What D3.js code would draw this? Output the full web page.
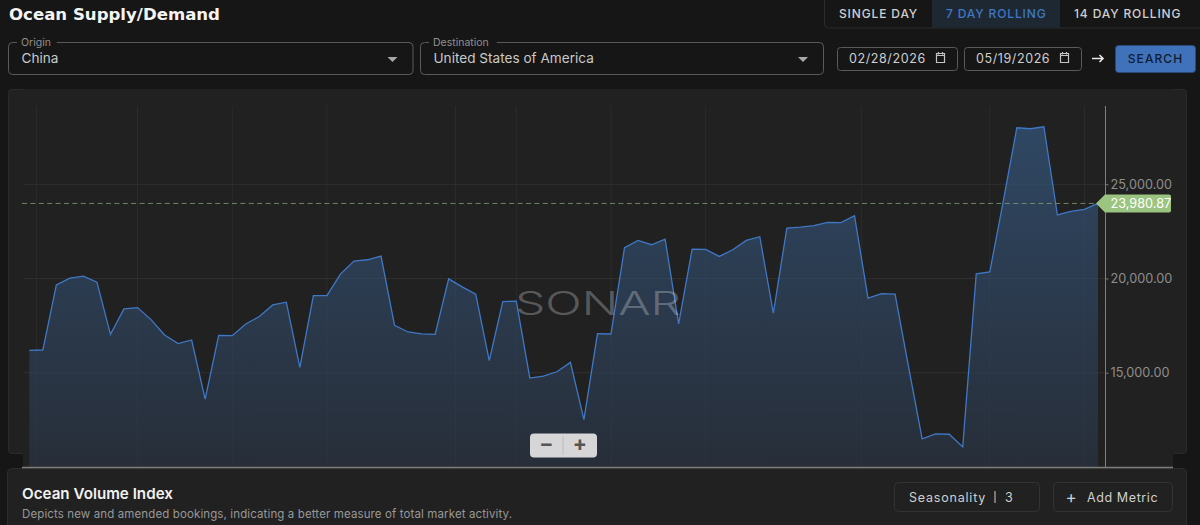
<!DOCTYPE html>
<html><head><meta charset="utf-8">
<script src="https://cdn.jsdelivr.net/npm/d3@7"></script>
<style>
html,body{margin:0;padding:0;background:#161616;overflow:hidden}
svg{display:block}
text{font-family:Inter,Roboto,sans-serif}
</style></head><body>
<svg id="c" width="1200" height="525"></svg>
<script>
const volumeValues = [16188,16206,19663,20018,20124,19805,17039,18386,18457,17819,17003,16543,16738,13599,16986,16968,17589,17979,18599,18741,
15284,19096,19096,20230,20922,20993,21188,17518,17163,17057,17039,19982,19557,19167,15638,18776,18794,14716,14823,15053,
15550,12518,17074,17057,21631,22021,21791,22092,17589,21560,21542,21170,21525,22021,22216,18156,22677,22730,22801,22979,
22961,23333,18954,19202,19167,15300,11489,11755,11738,11064,20248,20354,24100,27996,27943,28049,23369,23564,23670,23980.87];
const yTicks = [15000,20000,25000];
const gridIndex = [0.52,8,15,22,31.5,36,43,50,61.5,71,78];
const lastValue = 23980.87;
const tabLabels = ["SINGLE DAY","7 DAY ROLLING","14 DAY ROLLING"];
const startDate = "02/28/2026", endDate = "05/19/2026";

const svg = d3.select("#c");
const defs = svg.append("defs");
const g = defs.append("linearGradient").attr("id","fill").attr("gradientUnits","userSpaceOnUse")
  .attr("x1",0).attr("x2",0).attr("y1",128).attr("y2",467);
g.append("stop").attr("offset",0).attr("stop-color","#2f4763");
g.append("stop").attr("offset",1).attr("stop-color","#272e39");

const rect=(x,y,w,h,o={})=>svg.append("rect").attr("x",x).attr("y",y).attr("width",w).attr("height",h)
  .attr("rx",o.r||0).attr("fill",o.fill||"none").attr("stroke",o.stroke||"none").attr("stroke-width",o.sw||1);
const text=(s,x,y,o={})=>svg.append("text").text(s).attr("x",x).attr("y",y)
  .attr("font-size",o.size||13).attr("fill",o.fill||"#ddd").attr("font-weight",o.weight||400)
  .attr("letter-spacing",o.ls||0).attr("text-anchor",o.anchor||"start");

// page panels
rect(8.5,89.5,1178,364,{fill:"#212121",stroke:"#2b2b2b",r:3});
rect(23,89,1150,379,{fill:"#212121"});
rect(7.5,468.5,1179,70,{fill:"#212121",stroke:"#2c2c2c",r:4});

// scales
const x = d3.scaleLinear().domain([0,volumeValues.length-1]).range([29.3,1098]);
const y = d3.scaleLinear().domain([10000,29150]).range([467,106]);
const plot = svg.append("g");

// grid
plot.selectAll("line.v").data(gridIndex).join("line").attr("class","v")
  .attr("x1",d=>x(d)).attr("x2",d=>x(d)).attr("y1",106).attr("y2",467).attr("stroke","#282828");
plot.selectAll("line.h").data(yTicks).join("line").attr("class","h")
  .attr("x1",23).attr("x2",1105).attr("y1",d=>y(d)).attr("y2",d=>y(d)).attr("stroke","#2a2a2a");

// area + line
plot.append("path").datum(volumeValues).attr("fill","url(#fill)")
  .attr("d",d3.area().x((d,i)=>x(i)).y0(467).y1(d=>y(d)));
plot.selectAll("line.o").data(gridIndex).join("line").attr("class","o")
  .attr("x1",d=>x(d)).attr("x2",d=>x(d)).attr("y1",106).attr("y2",467).attr("stroke","#ffffff").attr("stroke-opacity",0.025);
plot.selectAll("line.p").data(yTicks).join("line").attr("class","p")
  .attr("x1",23).attr("x2",1105).attr("y1",d=>y(d)).attr("y2",d=>y(d)).attr("stroke","#ffffff").attr("stroke-opacity",0.035);
plot.append("path").datum(volumeValues).attr("fill","none").attr("stroke","#3f78c6").attr("stroke-width",1.3)
  .attr("stroke-linejoin","miter")
  .attr("d",d3.line().x((d,i)=>x(i)).y(d=>y(d)));

// last value dashed line
plot.append("line").attr("x1",22).attr("x2",1097).attr("y1",y(lastValue)).attr("y2",y(lastValue))
  .attr("stroke","#7e9670").attr("stroke-opacity",0.85).attr("stroke-dasharray","5 3.4");

// watermark
svg.append("text").text("SONAR").attr("x",515).attr("y",315).attr("font-size",32)
  .attr("textLength",166).attr("lengthAdjust","spacingAndGlyphs")
  .attr("fill","#ffffff").attr("fill-opacity",0.27).attr("font-weight",300)
  .style("font-family","Inter,Lato,sans-serif");

// axis
const axis = d3.axisRight(y).tickValues(yTicks).tickFormat(d3.format(",.2f")).tickSize(3).tickPadding(2);
const ag = svg.append("g").attr("transform","translate(1105.5,0)").call(axis);
ag.select(".domain").attr("stroke","#7f7f7f").attr("d","M0,106V467");
ag.selectAll(".tick line").attr("stroke","#777");
ag.selectAll(".tick text").attr("fill","#8e8e8e").attr("font-size",12.7).style("font-family","Inter,Roboto,sans-serif");

// baseline
svg.append("line").attr("x1",22).attr("x2",1173).attr("y1",467.5).attr("y2",467.5).attr("stroke","#7d7d7d").attr("stroke-width",1.4);

// price flag
const fy=y(lastValue);
svg.append("path").attr("fill","#9bc480").attr("d",`M1096,${fy}L1105,${fy-9}H1169a2,2 0 0 1 2,2V${fy+7}a2,2 0 0 1 -2,2H1105Z`);
text(d3.format(",.2f")(lastValue),1110.5,fy+4.4,{size:12.7,fill:"#fff"});

// zoom control
rect(530,433.5,67,24,{fill:"#d6d6d9",r:4});
svg.append("line").attr("x1",563).attr("x2",563).attr("y1",436).attr("y2",455).attr("stroke","#bcbcbf");
text("\u2212",546.5,451,{size:21,fill:"#555",weight:700,anchor:"middle"});
text("+",580,451,{size:21,fill:"#555",weight:700,anchor:"middle"});

// header
svg.append("text").text("Ocean Supply/Demand").attr("x",9).attr("y",19.5).attr("font-size",15)
  .attr("font-weight",700).attr("fill","#f4f4f4").attr("textLength",211).attr("lengthAdjust","spacingAndGlyphs")
  .style("font-family","'DejaVu Sans',sans-serif");

// tabs
rect(824.5,-4,380,32,{stroke:"#2b2b2b",r:4});
rect(932,0,128,27.5,{fill:"#1e2833"});
[[839,"#cfcfcf"],[946,"#3f78c6"],[1074,"#cfcfcf"]].forEach((p,i)=>
  text(tabLabels[i],p[0],18,{size:12,fill:p[1],ls:0.86,weight:500}));

// select fields
function field(x0,w,label,val){
  rect(x0+.5,42.5,w,32,{stroke:"#5a5a5a",r:4});
  rect(x0+9,39,label.length*5.6+6,6,{fill:"#161616"});
  text(label,x0+13,46,{size:10.5,fill:"#8f8f8f"});
  text(val,x0+13.5,63,{size:13.6,fill:"#c9c9c9"});
  const ax=x0+w-25;
  svg.append("path").attr("fill","#a8a8a8").attr("d",`M${ax},57h10l-5,5Z`);
}
field(8,404.5,"Origin","China");
field(420,403,"Destination","United States of America");

// date fields
function dateBox(x0,w,val){
  rect(x0+.5,47.5,w,23,{stroke:"#5a5a5a",r:3});
  text(val,x0+12,63,{size:12.5,fill:"#cfcfcf",ls:0.6});
  const ix=x0+w-21;
  svg.append("path").attr("fill","none").attr("stroke","#c4c4c4").attr("stroke-width",1.2)
    .attr("d",`M${ix},55.5h9M${ix+.5},53.5h8v9h-8ZM${ix+2.5},52v2.5M${ix+6.5},52v2.5`);
}
dateBox(837,120,startDate);
dateBox(964,117,endDate);
svg.append("path").attr("fill","none").attr("stroke","#e8e8e8").attr("stroke-width",1.6).attr("d","M1092,58.5h11M1099.5,55l3.5,3.5l-3.5,3.5");
rect(1115.5,45.5,80,27,{fill:"#3f72bb",stroke:"#2a4a78",r:3});
text("SEARCH",1155.5,63,{size:12,fill:"#0f1b2e",ls:1.1,weight:500,anchor:"middle"});

// footer
text("Ocean Volume Index",22,499,{size:15.2,fill:"#f2f2f2",weight:600});
text("Depicts new and amended bookings, indicating a better measure of total market activity.",22,518,{size:11.5,fill:"#989898",ls:0.12});
rect(894.5,482.5,145,29,{stroke:"#333",r:4});
text("Seasonality",909,502,{size:12.5,fill:"#cfcfcf",ls:0.8});
svg.append("line").attr("x1",995).attr("x2",995).attr("y1",491).attr("y2",503).attr("stroke","#cfcfcf");
text("3",1005,502,{size:12.5,fill:"#cfcfcf"});
rect(1053.5,482.5,119,29,{stroke:"#333",r:4});
text("+",1065.5,503,{size:17,fill:"#cfcfcf"});
text("Add Metric",1087,502,{size:12.5,fill:"#cfcfcf",ls:0.6});
</script></body></html>
